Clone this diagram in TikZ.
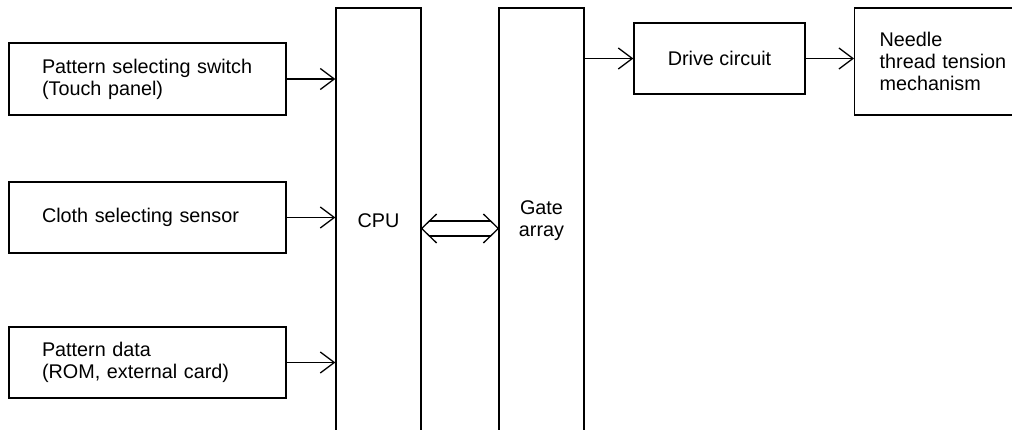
\documentclass[tikz,border=0pt]{standalone}
\usepackage{fontspec}
\setmainfont{Liberation Sans}
\usetikzlibrary{arrows.meta,calc}
\begin{document}
\begin{tikzpicture}[x=1pt,y=-1pt,
  every node/.style={font=\fontsize{19.8}{22}\selectfont},
  box/.style={draw, line width=1.3pt, rectangle, inner ysep=0pt},
  inbox/.style={box, minimum width=277pt, minimum height=72pt, text width=211pt, inner xsep=33pt, align=left},
  col/.style={box, minimum width=85pt, minimum height=426pt, inner xsep=0pt, align=center},
  conn/.style={line width=1.3pt, -{Straight Barb[length=14pt,width=21pt,line width=1.3pt]}},
  line/.style={line width=1.3pt}]
\useasboundingbox (0,0) rectangle (1012,430);
\begin{scope}
\clip (0,0) rectangle (1012,430);
\node[inbox] (pss) at (147.5,79) {Pattern selecting switch\\(Touch panel)};
\node[inbox, minimum height=71pt] (css) at (147.5,217.5) {Cloth selecting sensor};
\node[inbox, minimum height=71pt] (pd) at (147.5,362.5) {Pattern data\\(ROM, external card)};
\node[col] (cpu) at (378.5,221) {CPU};
\node[col] (gate) at (541.5,221) {Gate\\array};
\node[box, minimum width=171pt, minimum height=71pt] (drive) at (719.5,58.5) {Drive circuit};
\node[box, minimum height=107pt, text width=175pt, inner xsep=0pt, align=left, anchor=west] (needle) at (854,61.5) {\hspace*{25pt}Needle\\\hspace*{25pt}thread tension\\\hspace*{25pt}mechanism};

\draw[conn] (pss.east) -- (cpu.west |- pss.east);
\draw[conn] (css.east) -- (cpu.west |- css.east);
\draw[conn] (pd.east) -- (cpu.west |- pd.east);
\draw[conn] (gate.east |- drive.west) -- (drive.west);
\draw[conn] (drive.east) -- (needle.west |- drive.east);

\coordinate (dl) at (cpu.east |- 0,228.5);
\coordinate (dr) at (gate.west |- 0,228.5);
\draw[line] ($(dl)+(15,-14.5)$) -- (dl) -- ($(dl)+(15,14.5)$);
\draw[line] ($(dr)+(-15,-14.5)$) -- (dr) -- ($(dr)+(-15,14.5)$);
\draw[line] ($(dl)+(7.8,-7.5)$) -- ($(dr)+(-7.8,-7.5)$);
\draw[line] ($(dl)+(7.8,7.5)$) -- ($(dr)+(-7.8,7.5)$);
\end{scope}
\end{tikzpicture}
\end{document}
